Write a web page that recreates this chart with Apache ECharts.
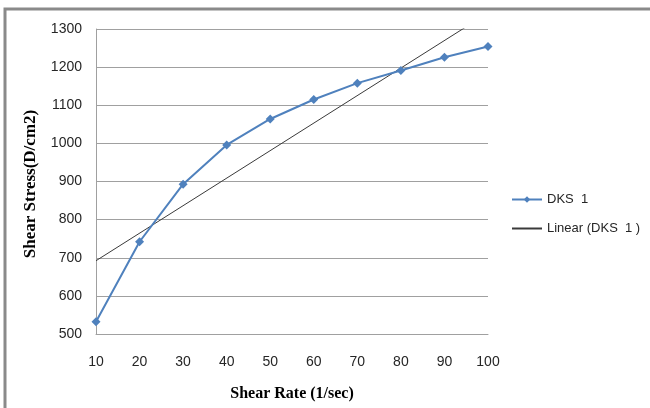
<!DOCTYPE html>
<html>
<head>
<meta charset="utf-8">
<script src="https://cdn.jsdelivr.net/npm/echarts@6/dist/echarts.min.js"></script>
<style>
  html, body { margin: 0; padding: 0; background: #fff; }
  #chart { width: 650px; height: 408px; }
</style>
</head>
<body>
<div id="chart"></div>
<script>
// Shear rate (1/sec) and measured shear stress (D/cm2) for sample DKS 1
var shearRate = [10, 20, 30, 40, 50, 60, 70, 80, 90, 100];
var shearStress = [532, 742, 893, 996, 1064, 1115, 1158, 1191, 1226, 1254];
var seriesName = 'DKS  1';
var trendName = 'Linear (DKS  1 )';
var xTitle = 'Shear Rate (1/sec)';
var yTitle = 'Shear Stress(D/cm2)';

// Least-squares linear trend over the measured points
function linearFit(xs, ys) {
  var n = xs.length, sx = 0, sy = 0, sxx = 0, sxy = 0;
  for (var i = 0; i < n; i++) {
    sx += xs[i]; sy += ys[i]; sxx += xs[i] * xs[i]; sxy += xs[i] * ys[i];
  }
  var slope = (n * sxy - sx * sy) / (n * sxx - sx * sx);
  var intercept = (sy - slope * sx) / n;
  return { slope: slope, intercept: intercept };
}
var fit = linearFit(shearRate, shearStress);
var xFirst = shearRate[0], xLast = shearRate[shearRate.length - 1];
var trendData = [
  [xFirst, fit.intercept + fit.slope * xFirst],
  [xLast, fit.intercept + fit.slope * xLast]
];

var chart = echarts.init(document.getElementById('chart'), null, { renderer: 'canvas' });
var labelFont = { color: '#262626', fontFamily: 'Liberation Sans', fontSize: 14 };
var plainNumber = function (v) { return String(v); };

chart.setOption({
  backgroundColor: '#fff',
  animation: false,
  graphic: [{
    type: 'polyline',
    shape: { points: [[5, 420], [5, 9], [660, 9]] },
    style: { stroke: '#8a8a8a', lineWidth: 3, fill: null },
    silent: true
  }, {
    // vertical axis title, rotated to read bottom-to-top
    type: 'text',
    x: 31, y: 184,
    rotation: Math.PI / 2,
    style: {
      text: yTitle,
      align: 'center',
      verticalAlign: 'middle',
      fill: '#000',
      font: 'bold 17px "Liberation Serif"'
    },
    silent: true
  }],
  grid: { left: 96, right: 162, top: 29, bottom: 74 },
  legend: {
    orient: 'vertical',
    left: 506,
    top: 188,
    itemWidth: 30,
    itemHeight: 8,
    itemGap: 16,
    textStyle: { color: '#262626', fontFamily: 'Liberation Sans', fontSize: 13 },
    data: [
      { name: seriesName },
      { name: trendName, itemStyle: { opacity: 0 } }
    ]
  },
  xAxis: {
    type: 'value',
    min: 10, max: 100, interval: 10,
    name: xTitle,
    nameLocation: 'middle',
    nameGap: 52,
    nameTextStyle: { color: '#000', fontFamily: 'Liberation Serif', fontSize: 16, fontWeight: 'bold' },
    axisLine: { show: true, lineStyle: { color: '#a0a0a0', width: 1 } },
    axisTick: { show: false },
    axisLabel: Object.assign({ margin: 21, formatter: plainNumber }, labelFont),
    splitLine: { show: false }
  },
  yAxis: {
    type: 'value',
    min: 500, max: 1300, interval: 100,
    axisLine: { show: true, lineStyle: { color: '#a0a0a0', width: 1 } },
    axisTick: { show: false },
    axisLabel: Object.assign({ margin: 14, formatter: plainNumber }, labelFont),
    splitLine: { show: true, lineStyle: { color: '#a0a0a0', width: 1 } }
  },
  series: [{
    name: seriesName,
    type: 'line',
    data: shearRate.map(function (x, i) { return [x, shearStress[i]]; }),
    symbol: 'diamond',
    symbolSize: 9,
    lineStyle: { color: '#4f81bd', width: 2 },
    itemStyle: { color: '#4f81bd' },
    z: 3
  }, {
    name: trendName,
    type: 'line',
    data: trendData,
    symbol: 'none',
    clip: true,
    lineStyle: { color: '#3a3a3a', width: 1 },
    itemStyle: { color: '#3a3a3a' },
    z: 2
  }]
});
</script>
</body>
</html>
